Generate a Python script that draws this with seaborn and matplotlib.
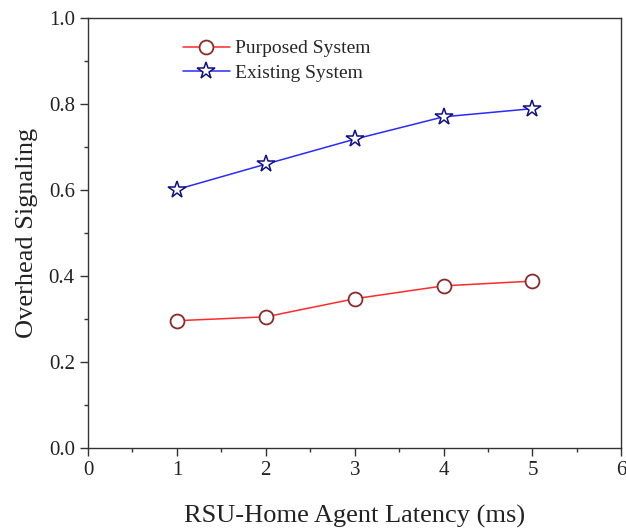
import matplotlib
matplotlib.use("Agg")
import matplotlib.pyplot as plt
import seaborn as sns
import pandas as pd
from matplotlib.ticker import MultipleLocator

latency = [1, 2, 3, 4, 5]
purposed = [0.296, 0.305, 0.347, 0.377, 0.388]
existing = [0.601, 0.660, 0.718, 0.770, 0.789]
series_names = ["Purposed System", "Existing System"]

sns.set_style("white")
plt.rcParams["font.family"] = ["Liberation Serif", "DejaVu Serif"]

fig = plt.figure(figsize=(6.26, 5.31), dpi=100)
ax = fig.add_axes([0.1406, 0.1563, 0.852, 0.81])

df_p = pd.DataFrame({"x": latency, "y": purposed})
df_e = pd.DataFrame({"x": latency, "y": existing})

sns.lineplot(data=df_p, x="x", y="y", ax=ax, color="#ff2a2a", lw=1.1,
             marker="o", markersize=10, markerfacecolor="white",
             markeredgecolor="#8b2a2a", markeredgewidth=1.3, label=series_names[0])
sns.lineplot(data=df_e, x="x", y="y", ax=ax, color="#2a2aff", lw=1.1,
             marker="*", markersize=13, markerfacecolor="white",
             markeredgecolor="#101080", markeredgewidth=1.1, label=series_names[1])

ax.set_xlim(0, 6)
ax.set_ylim(0, 1.0)
ax.xaxis.set_major_locator(MultipleLocator(1))
ax.xaxis.set_minor_locator(MultipleLocator(0.5))
ax.yaxis.set_major_locator(MultipleLocator(0.2))
ax.yaxis.set_minor_locator(MultipleLocator(0.1))
ax.xaxis.set_major_formatter(matplotlib.ticker.FormatStrFormatter("%d"))
ax.yaxis.set_major_formatter(matplotlib.ticker.FormatStrFormatter("%.1f"))
ax.tick_params(which="both", direction="out", bottom=True, left=True, top=False, right=False,
               colors="#333333", labelcolor="#222222")
ax.tick_params(which="major", length=6, width=1.0, labelsize=15)
ax.tick_params(which="minor", length=3, width=1.0)
for s in ax.spines.values():
    s.set_color("#333333")
    s.set_linewidth(1.0)

ax.set_xlabel("RSU-Home Agent Latency (ms)", fontsize=19, color="#222222", labelpad=18)
ax.set_ylabel("Overhead Signaling", fontsize=19, color="#222222", labelpad=8)

leg = ax.legend(loc="upper left", bbox_to_anchor=(0.178, 0.949), frameon=False,
                borderaxespad=0, borderpad=0,
                fontsize=14, handlelength=2.4, labelspacing=0.35, handletextpad=0.3)

fig.savefig("out.png", dpi=100)
